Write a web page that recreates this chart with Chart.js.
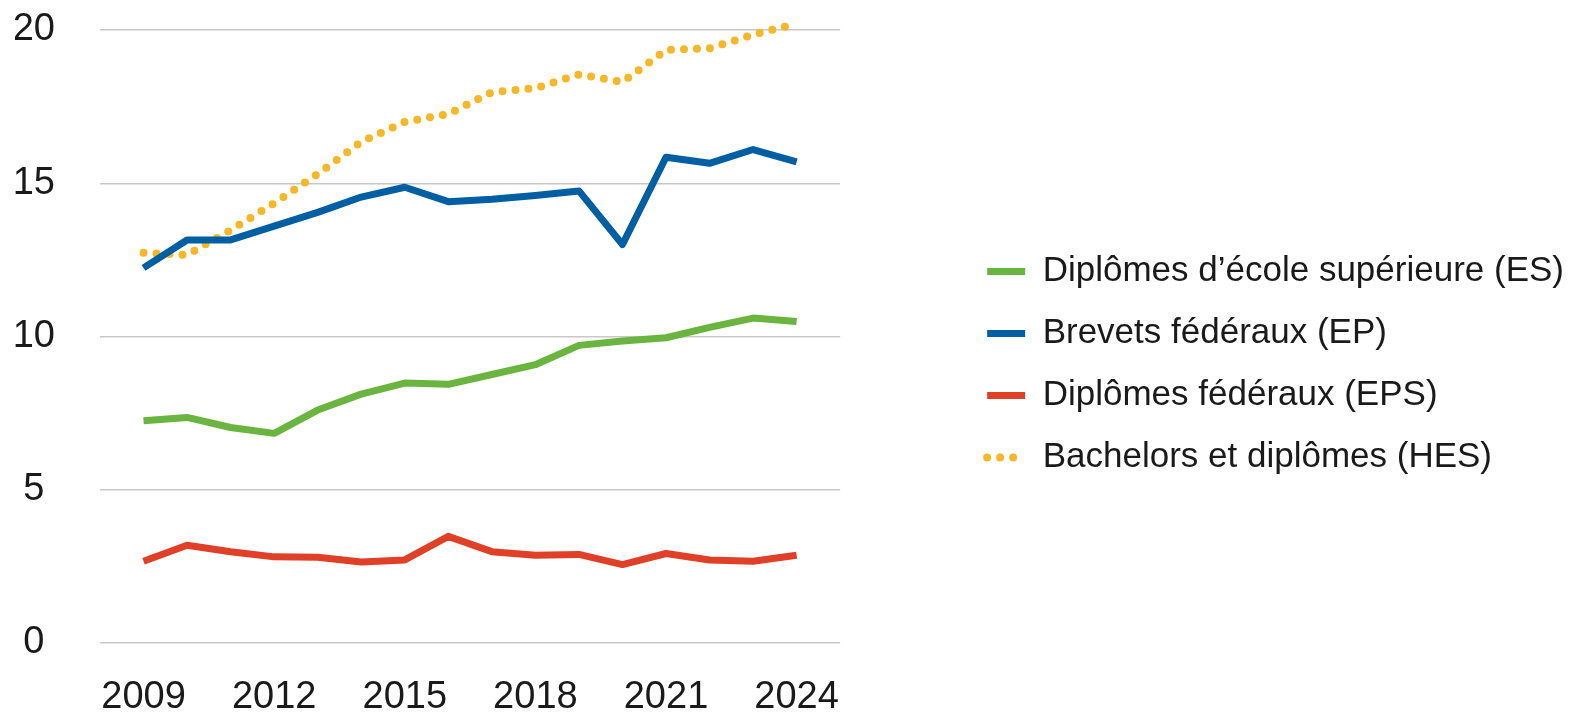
<!DOCTYPE html>
<html>
<head>
<meta charset="utf-8">
<script src="https://cdn.jsdelivr.net/npm/chart.js@4"></script>
<style>
  html, body { margin: 0; padding: 0; background: #fff; }
</style>
</head>
<body>
<canvas id="chart" width="1574" height="721"></canvas>
<script>
const years = [2009, 2010, 2011, 2012, 2013, 2014, 2015, 2016, 2017, 2018, 2019, 2020, 2021, 2022, 2023, 2024];
const tickYears = [2009, 2012, 2015, 2018, 2021, 2024];

const esValues = [7.25, 7.36, 7.03, 6.84, 7.6, 8.12, 8.48, 8.44, 8.76, 9.08, 9.71, 9.85, 9.96, 10.3, 10.6, 10.49];
const epValues = [12.24, 13.15, 13.15, 13.6, 14.05, 14.55, 14.87, 14.4, 14.48, 14.6, 14.75, 13.0, 15.85, 15.65, 16.1, 15.7];
const epsValues = [2.67, 3.19, 2.98, 2.81, 2.8, 2.64, 2.71, 3.48, 2.98, 2.86, 2.89, 2.56, 2.92, 2.71, 2.67, 2.86];
const hesValues = [12.73, 12.66, 13.47, 14.35, 15.3, 16.35, 17.0, 17.26, 17.97, 18.1, 18.55, 18.3, 19.35, 19.4, 19.85, 20.2];

const labels = [
  'Diplômes d’école supérieure (ES)',
  'Brevets fédéraux (EP)',
  'Diplômes fédéraux (EPS)',
  'Bachelors et diplômes (HES)'
];

const FONT = "'Liberation Sans', Arial, sans-serif";
const TEXT = '#1a1a1a';

function points(values) {
  return values.map((v, i) => ({ x: years[i], y: v }));
}

function line(label, values, color, dotted) {
  return {
    label: label,
    data: points(values),
    borderColor: color,
    backgroundColor: color,
    borderWidth: dotted ? 8 : 7,
    borderDash: dotted ? [0, 13] : [],
    borderCapStyle: dotted ? 'round' : 'butt',
    borderJoinStyle: 'round',
    pointRadius: 0,
    tension: 0,
    fill: false,
    clip: false
  };
}

const ctx = document.getElementById('chart').getContext('2d');

new Chart(ctx, {
  type: 'line',
  data: {
    datasets: [
      line(labels[0], esValues, '#6ab440', false),
      line(labels[1], epValues, '#005ea2', false),
      line(labels[2], epsValues, '#e04028', false),
      line(labels[3], hesValues, '#f6b728', true)
    ]
  },
  options: {
    responsive: false,
    animation: false,
    devicePixelRatio: 1,
    layout: {
      padding: { left: 15, top: 18, bottom: 10, right: 0 }
    },
    plugins: {
      tooltip: { enabled: false },
      legend: {
        position: 'right',
        maxWidth: 800,
        labels: {
          usePointStyle: true,
          pointStyle: 'line',
          pointStyleWidth: 38,
          padding: 27,
          color: TEXT,
          font: { family: FONT, size: 35 },
          // line samples taken straight from the datasets so the dotted one stays dotted
          generateLabels: (chart) => chart.data.datasets.map((ds, i) => ({
            text: ds.label,
            fillStyle: ds.borderColor,
            strokeStyle: ds.borderColor,
            lineWidth: ds.borderWidth,
            lineDash: ds.borderDash,
            lineCap: ds.borderDash.length ? 'round' : 'butt',
            pointStyle: 'line',
            fontColor: TEXT,
            hidden: false,
            datasetIndex: i
          }))
        }
      }
    },
    scales: {
      x: {
        type: 'linear',
        min: 2008,
        max: 2025,
        afterBuildTicks: (scale) => {
          scale.ticks = tickYears.map(v => ({ value: v }));
        },
        afterFit: (scale) => { scale.height = 68; },
        grid: { display: false },
        border: { display: false },
        ticks: {
          padding: 24,
          color: TEXT,
          font: { family: FONT, size: 38 },
          maxRotation: 0,
          autoSkip: false,
          callback: (v) => String(v)
        }
      },
      y: {
        min: 0,
        max: 20,
        afterFit: (scale) => {
          scale.width = 85;
          scale.paddingTop = 30;
          scale.paddingBottom = 0;
        },
        grid: { color: '#c8c8c8', lineWidth: 1.5, drawTicks: false },
        border: { display: false },
        ticks: {
          stepSize: 5,
          padding: 45,
          crossAlign: 'center',
          color: TEXT,
          font: { family: FONT, size: 38 }
        }
      },
      gap: {
        type: 'linear',
        position: 'right',
        display: true,
        grid: { display: false },
        border: { display: false },
        ticks: { display: false },
        afterFit: (scale) => { scale.width = 120; }
      }
    }
  }
});
</script>
</body>
</html>
